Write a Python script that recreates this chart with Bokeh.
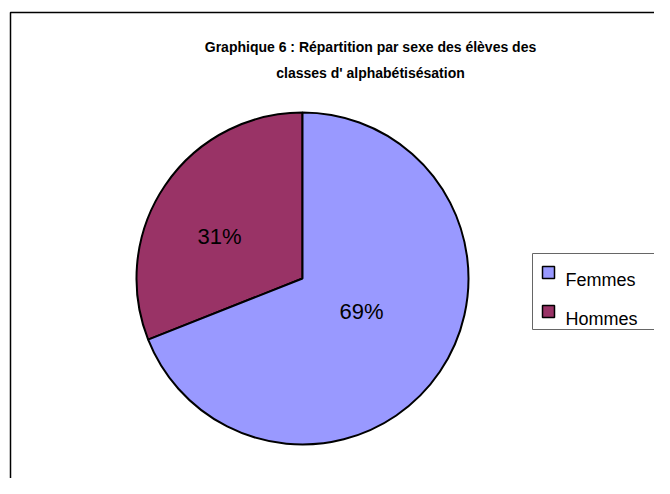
import math
from bokeh.plotting import figure
from bokeh.models import ColumnDataSource, Range1d
from bokeh.core.properties import value
from bokeh.embed import file_html
from bokeh.resources import INLINE

# ---- data ----
title_lines = ["Graphique 6 : Répartition par sexe des élèves des",
               "classes d' alphabétisésation"]
categories = ["Femmes", "Hommes"]
shares = [69, 31]
colors = ["#9999FF", "#993366"]

# ---- layout (pixel-like data space) ----
W, H = 654, 478
cx, cy, radius = 302, 200, 166

p = figure(width=W, height=H, output_backend="svg", toolbar_location=None,
           x_range=Range1d(0, W), y_range=Range1d(0, H), min_border=0)
p.axis.visible = False
p.grid.visible = False
p.outline_line_color = None
p.background_fill_color = "white"
p.border_fill_color = "white"

# chart area border (extends beyond the visible window)
p.line([10, 10, W + 10], [-10, H - 12, H - 12], line_color="black", line_width=1.5)

# wedges: Hommes drawn first, starting at 12 o'clock, going anticlockwise
order = [1, 0]
total = float(sum(shares))
starts, ends, cols, names = [], [], [], []
a = math.pi / 2
for i in order:
    span = shares[i] / total * 2 * math.pi
    starts.append(a)
    ends.append(a + span)
    cols.append(colors[i])
    names.append(categories[i])
    a += span
src = ColumnDataSource(dict(x=[cx] * len(order), y=[cy] * len(order),
                            start=starts, end=ends, color=cols, name=names))
p.wedge(x="x", y="y", radius=radius, start_angle="start", end_angle="end",
        fill_color="color", line_color="black", line_width=2, source=src)

# percentage labels
label_pos = {"Hommes": (219, 242), "Femmes": (361, 167)}
lx = [label_pos[c][0] for c in categories]
ly = [label_pos[c][1] for c in categories]
ltxt = [f"{v}%" for v in shares]
p.text(x=lx, y=ly, text=ltxt, text_align="center", text_baseline="alphabetic",
       text_font=value("Liberation Sans"), text_font_size="22px", text_color="black")

# title
p.text(x=[370, 370], y=[432, 406], text=title_lines, text_align="center",
       text_baseline="alphabetic", text_font=value("Liberation Sans"),
       text_font_size="14px", text_font_style="bold", text_color="black")

# legend (custom, box extends beyond window)
leg_left, leg_top, leg_bottom = 532, 225, 149
p.line([W + 10, leg_left, leg_left, W + 10], [leg_top, leg_top, leg_bottom, leg_bottom],
       line_color="#666666", line_width=1)
step = 39
sq_y = [206 - i * step for i in range(len(categories))]
txt_y = [199 - i * step for i in range(len(categories))]
p.rect(x=[548] * len(categories), y=sq_y, width=12, height=12, fill_color=colors,
       line_color="black", line_width=1.5)
p.text(x=[565] * len(categories), y=txt_y, text=categories, text_align="left",
       text_baseline="alphabetic", text_font=value("Liberation Sans"),
       text_font_size="18px", text_color="black")

open("out.html", "w").write(file_html(p, INLINE))
